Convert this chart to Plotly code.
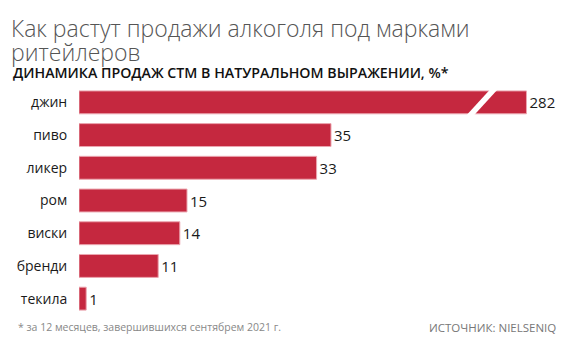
import plotly.graph_objects as go

categories = ["джин", "пиво", "ликер", "ром", "виски", "бренди", "текила"]
values = [282, 35, 33, 15, 14, 11, 1]
# the first bar is drawn with a broken (truncated) axis
break_display_length = 62.15
break_at = 54.0

title_line1 = "Как растут продажи алкоголя под марками"
title_line2 = "ритейлеров"
subtitle = "ДИНАМИКА ПРОДАЖ СТМ В НАТУРАЛЬНОМ ВЫРАЖЕНИИ, %*"
footnote = "* за 12 месяцев, завершившихся сентябрем 2021 г."
source = "ИСТОЧНИК: NIELSENIQ"

OFF = 8  # default page body margin
W, H = 570 - 2 * OFF, 355 - 2 * OFF
# layout in window pixels
PLOT_L, PLOT_R, PLOT_T, PLOT_B = 79, 562, 86, 315
ML = PLOT_L - OFF
MR = W - (PLOT_R - OFF)
MT = PLOT_T - OFF
MB = H - (PLOT_B - OFF)
PW, PH = W - ML - MR, H - MT - MB
PX_PER_UNIT = 7.2
BAR_COLOR = "#C5283F"
FONT = "Open Sans"


def px_x(px):
    return (px - OFF - ML) / PW


def px_y(py):
    return (H - MB - (py - OFF)) / PH


display = [min(v, break_display_length) for v in values]
ypos = list(range(len(categories)))
bar_w = 0.7

fig = go.Figure()
fig.add_trace(go.Bar(
    x=display, y=ypos, orientation="h", width=bar_w,
    marker=dict(color=BAR_COLOR, line=dict(color="#EBA6B0", width=1)),
    text=[str(v) for v in values], textposition="outside",
    textfont=dict(family=FONT, size=15, color="#1a1a1a", weight=500),
    constraintext="none", cliponaxis=False, hoverinfo="skip",
))

# slanted white gap marking the axis break on the first bar
units_per_row_px = PH / len(categories)
slope = (21 / 23) * (bar_w * units_per_row_px) / PX_PER_UNIT
gap = 1.05
yb, yt = ypos[0] + bar_w / 2 + 0.06, ypos[0] - bar_w / 2 - 0.06
ext = slope * 0.06 / bar_w
x0 = break_at - ext
x1 = break_at + slope + ext
fig.add_shape(type="path",
              path=f"M {x0},{yb} L {x0 + gap},{yb} L {x1 + gap},{yt} L {x1},{yt} Z",
              xref="x", yref="y", fillcolor="white", line=dict(width=0), layer="above")

fig.update_layout(
    width=W, height=H, margin=dict(l=ML, r=MR, t=MT, b=MB, autoexpand=False),
    paper_bgcolor="white", plot_bgcolor="white", showlegend=False,
    xaxis=dict(range=[0, PW / PX_PER_UNIT], visible=False, fixedrange=True, automargin=False),
    yaxis=dict(range=[len(categories) - 0.5, -0.5], tickvals=ypos, ticktext=categories,
               showgrid=False, zeroline=False, showline=False, automargin=False,
               ticks="outside", ticklen=8, tickcolor="rgba(0,0,0,0)",
               tickfont=dict(family=FONT, size=14, color="#1a1a1a", weight=500)),
    font=dict(family=FONT),
)

ann = [
    (title_line1, 9, 28, 23, "#555555", 300, "left"),
    (title_line2, 9, 52, 23, "#555555", 300, "left"),
    (subtitle, 11, 72, 14.2, "#111111", 600, "left"),
    (footnote, 16, 327, 10.5, "#888888", 400, "left"),
    (source, 558, 327, 11.5, "#777777", 400, "right"),
]
for text, x, y, size, color, weight, anchor in ann:
    fig.add_annotation(text=text, x=px_x(x), y=px_y(y), xref="paper", yref="paper",
                       xanchor=anchor, yanchor="middle", showarrow=False,
                       font=dict(family=FONT, size=size, color=color, weight=weight))

fig.write_html("out.html")
